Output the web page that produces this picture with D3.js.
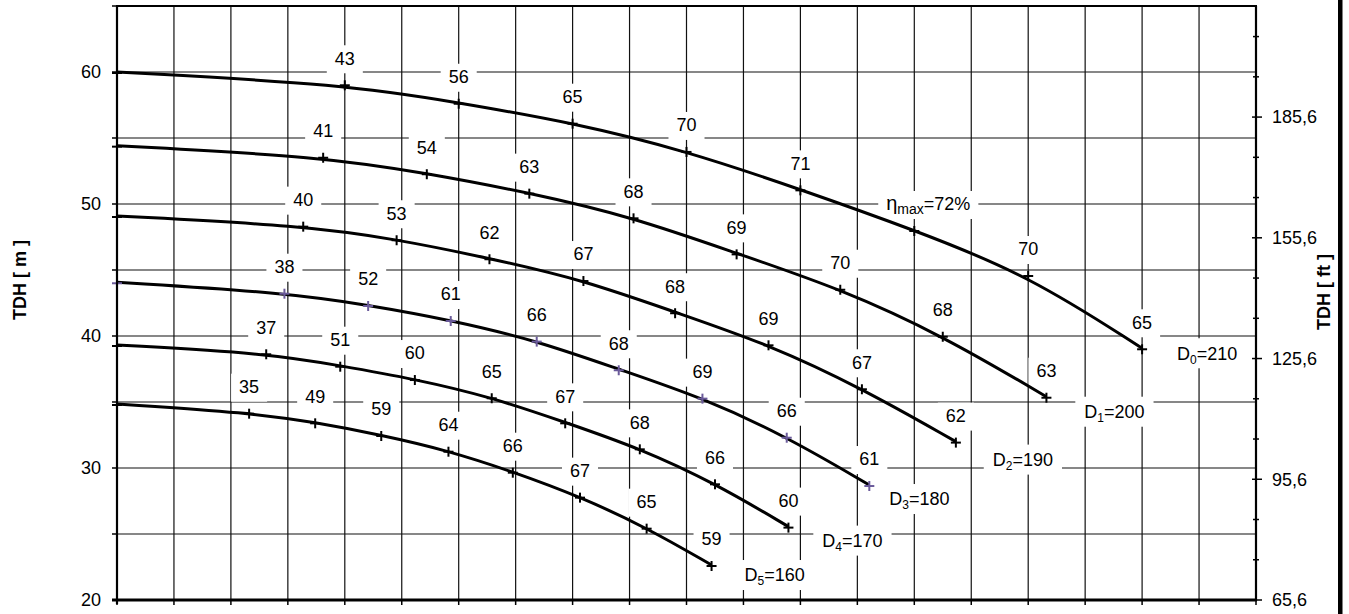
<!DOCTYPE html>
<html><head><meta charset="utf-8">
<script src="https://cdn.jsdelivr.net/npm/d3@7"></script>
<style>
body{margin:0;background:#fff}
svg{display:block}
text{font-family:"Liberation Sans",Arial,Helvetica,sans-serif;fill:#000}
</style>
</head><body>
<svg id="chart" width="1349" height="614"></svg>
<script>
// ---------------- DATA ----------------
const curveNames   = ["D0","D1","D2","D3","D4","D5"];
const curveSubs    = ["0","1","2","3","4","5"];
const diameters    = [210,200,190,180,170,160];

// flow positions (grid units, 0..20) and head [m] of each marked point
const flowD0 = [0, 4.00, 6.00, 8.00, 10.00, 12.00, 14.00, 16.00, 18.00];
const headD0 = [60.00, 59.07, 57.67, 56.16, 54.02, 51.11, 48.03, 44.62, 39.07];
const effD0  = [null, "43", "56", "65", "70", "71", "ηmax=72%", "70", "65"];

const flowD1 = [0, 3.62, 5.44, 7.24, 9.07, 10.88, 12.70, 14.50, 16.32];
const headD1 = [54.42, 53.58, 52.33, 50.86, 48.99, 46.26, 43.58, 40.02, 35.40];
const effD1  = [null, "41", "54", "63", "68", "69", "70", "68", "63"];

const flowD2 = [0, 3.27, 4.91, 6.54, 8.19, 9.80, 11.44, 13.08, 14.73];
const headD2 = [49.09, 48.36, 47.33, 45.89, 44.24, 41.80, 39.37, 36.04, 32.00];
const effD2  = [null, "40", "53", "62", "67", "68", "69", "67", "62"];

const flowD3 = [0, 2.94, 4.41, 5.86, 7.37, 8.81, 10.28, 11.76, 13.21];
const headD3 = [44.07, 43.28, 42.35, 41.21, 39.65, 37.48, 35.33, 32.37, 28.71];
const effD3  = [null, "38", "52", "61", "66", "68", "69", "66", "61"];

const flowD4 = [0, 2.62, 3.92, 5.23, 6.58, 7.87, 9.18, 10.50, 11.79];
const headD4 = [39.32, 38.69, 37.75, 36.74, 35.36, 33.46, 31.49, 28.84, 25.56];
const effD4  = [null, "37", "51", "60", "65", "67", "68", "66", "60"];

const flowD5 = [0, 2.32, 3.48, 4.64, 5.82, 6.95, 8.13, 9.30, 10.44];
const headD5 = [34.85, 34.19, 33.46, 32.50, 31.31, 29.72, 27.83, 25.48, 22.65];
const effD5  = [null, "35", "49", "59", "64", "66", "67", "65", "59"];

const leftTickValues  = [20, 30, 40, 50, 60];
const leftMinorValues = [25, 35, 45, 55, 65];
const rightTickValues = [65.6, 95.6, 125.6, 155.6, 185.6];
const rightTickLabels = ["65,6", "95,6", "125,6", "155,6", "185,6"];
const rightMinorValues = [75.6, 85.6, 105.6, 115.6, 135.6, 145.6, 165.6, 175.6, 195.6, 205.6];
const ftPerMeter = 3.28;
const leftTitle  = "TDH [ m ]";
const rightTitle = "TDH  [ ft ]";

// ---------------- LAYOUT / STYLE ----------------
const W = 1349, H = 614;
const plot = {left:117, right:1256, top:6, bottom:600};
const markerColors = ["#000","#000","#000","#6a5a9a","#000","#000"];
// D-label offsets relative to last marker (px)
const dLabelOffset = [[65,5],[68,15],[67,18],[50,14],[64,14],[63,10]];

const svg = d3.select("#chart");
const x = d3.scaleLinear().domain([0,20]).range([plot.left, plot.right]);
const y = d3.scaleLinear().domain([20,65]).range([plot.bottom, plot.top]);
const yFt = d3.scaleLinear().domain([20*ftPerMeter, 65*ftPerMeter]).range([plot.bottom, plot.top]);

const series = [
  {flow:flowD0, head:headD0, eff:effD0},
  {flow:flowD1, head:headD1, eff:effD1},
  {flow:flowD2, head:headD2, eff:effD2},
  {flow:flowD3, head:headD3, eff:effD3},
  {flow:flowD4, head:headD4, eff:effD4},
  {flow:flowD5, head:headD5, eff:effD5}
].map((s,i)=>({...s, name:curveNames[i], sub:curveSubs[i], d:diameters[i],
   pts:s.flow.map((f,j)=>({f, h:s.head[j], e:s.eff[j]}))}));

// ---------------- GRID ----------------
const grid = svg.append("g");
grid.selectAll("line.v").data(d3.range(1,20)).join("line")
  .attr("x1",d=>x(d)).attr("x2",d=>x(d)).attr("y1",plot.top).attr("y2",plot.bottom)
  .attr("stroke","#111").attr("stroke-width",1.2);
grid.selectAll("line.h").data(d3.range(25,65,5)).join("line")
  .attr("x1",plot.left).attr("x2",plot.right).attr("y1",d=>y(d)).attr("y2",d=>y(d))
  .attr("stroke","#111").attr("stroke-width",1.2);

// ---------------- LABEL BOXES + TEXT ----------------
const labelLayer = svg.append("g");
const boxLayer = labelLayer.append("g");
const textLayer = labelLayer.append("g");

function addBox(node, padX, top, bottom){
  const bb = node.getBBox();
  boxLayer.append("rect")
    .attr("x", bb.x - padX).attr("width", bb.width + 2*padX)
    .attr("y", top).attr("height", bottom-top).attr("fill","#fff");
}

series.forEach((s,i)=>{
  s.pts.forEach(p=>{
    if(p.e==null) return;
    const mx = x(p.f), my = y(p.h);
    if(p.e.startsWith("η")){
      const cx = mx + 14, cy = my - 26;
      const t = textLayer.append("text").attr("x",cx).attr("y",cy).attr("dy","0.35em")
        .attr("text-anchor","middle").attr("font-size",18);
      t.append("tspan").attr("font-size",20).text("η");
      t.append("tspan").attr("font-size",14).attr("dy",4).text("max");
      t.append("tspan").attr("dy",-4).text(p.e.replace("ηmax",""));
      addBox(t.node(), 8, cy-13, cy+15);
    } else {
      const cx = mx, cy = my - 26;
      const t = textLayer.append("text").attr("x",cx).attr("y",cy).attr("dy","0.35em")
        .attr("text-anchor","middle").attr("font-size",18).text(p.e);
      addBox(t.node(), 8, cy-13, cy+15);
    }
  });
  const last = s.pts[s.pts.length-1];
  const cx = x(last.f) + dLabelOffset[i][0], cy = y(last.h) + dLabelOffset[i][1];
  const t = textLayer.append("text").attr("x",cx).attr("y",cy).attr("dy","0.35em")
    .attr("text-anchor","middle").attr("font-size",18);
  t.append("tspan").text("D");
  t.append("tspan").attr("font-size",12).attr("dy",4).text(s.sub);
  t.append("tspan").attr("dy",-4).text("=" + s.d);
  addBox(t.node(), 9, cy-15, cy+15);
});

// ---------------- CURVES ----------------
const line = d3.line().x(d=>x(d.f)).y(d=>y(d.h)).curve(d3.curveBasis);
const curveLayer = svg.append("g");
curveLayer.selectAll("path").data(series).join("path")
  .attr("d",d=>line(d.pts)).attr("fill","none").attr("stroke","#000").attr("stroke-width",3);

// markers
series.forEach((s,i)=>{
  const g = svg.append("g").attr("stroke",markerColors[i]).attr("stroke-width",2);
  s.pts.forEach(p=>{
    const cx = x(p.f), cy = y(p.h);
    g.append("line").attr("x1",cx-5).attr("x2",cx+5).attr("y1",cy+1).attr("y2",cy+1);
    g.append("line").attr("x1",cx).attr("x2",cx).attr("y1",cy-4).attr("y2",cy+6);
  });
});

// ---------------- AXES ----------------
const axes = svg.append("g").attr("stroke","#000");
axes.append("line").attr("x1",plot.left).attr("x2",plot.left).attr("y1",plot.top).attr("y2",plot.bottom+4).attr("stroke-width",2.2);
axes.append("line").attr("x1",plot.right).attr("x2",plot.right).attr("y1",plot.top).attr("y2",plot.bottom+1).attr("stroke-width",2.2);
axes.append("line").attr("x1",plot.left-1).attr("x2",plot.right+1).attr("y1",plot.top).attr("y2",plot.top).attr("stroke-width",2.2);
axes.append("line").attr("x1",plot.left-5).attr("x2",plot.right+1).attr("y1",plot.bottom).attr("y2",plot.bottom).attr("stroke-width",2.8);

// bottom ticks
axes.selectAll("line.bt").data(d3.range(0,21)).join("line")
  .attr("x1",d=>x(d)).attr("x2",d=>x(d)).attr("y1",plot.bottom).attr("y2",plot.bottom+5).attr("stroke-width",1.5);

// left ticks
axes.selectAll("line.lt").data(leftTickValues.concat(leftMinorValues)).join("line")
  .attr("x1",plot.left-5).attr("x2",plot.left).attr("y1",d=>y(d)).attr("y2",d=>y(d)).attr("stroke-width",1.5);
svg.append("g").selectAll("text").data(leftTickValues).join("text")
  .attr("x",plot.left-16).attr("y",d=>y(d)).attr("dy","0.35em").attr("text-anchor","end")
  .attr("font-size",18).text(d=>d);

// right ticks
axes.selectAll("line.rt").data(rightTickValues).join("line")
  .attr("x1",plot.right-4).attr("x2",plot.right+6).attr("y1",d=>yFt(d)).attr("y2",d=>yFt(d)).attr("stroke-width",1.5);
axes.selectAll("line.rm").data(rightMinorValues).join("line")
  .attr("x1",plot.right-3).attr("x2",plot.right+3).attr("y1",d=>yFt(d)).attr("y2",d=>yFt(d)).attr("stroke-width",1.5);
svg.append("g").selectAll("text").data(rightTickValues).join("text")
  .attr("x",plot.right+16).attr("y",d=>yFt(d)).attr("dy","0.35em").attr("text-anchor","start")
  .attr("font-size",18).text((d,i)=>rightTickLabels[i]);

// titles
svg.append("text").attr("transform","translate(26,280) rotate(-90)")
  .attr("text-anchor","middle").attr("font-weight","bold").attr("font-size",18).text(leftTitle);
svg.append("text").attr("transform","translate(1330,292) rotate(-90)")
  .attr("text-anchor","middle").attr("font-weight","bold").attr("font-size",18).text(rightTitle);

// right edge bar
svg.append("rect").attr("x",1338).attr("y",0).attr("width",4.5).attr("height",H).attr("fill","#000");
</script>
</body></html>
